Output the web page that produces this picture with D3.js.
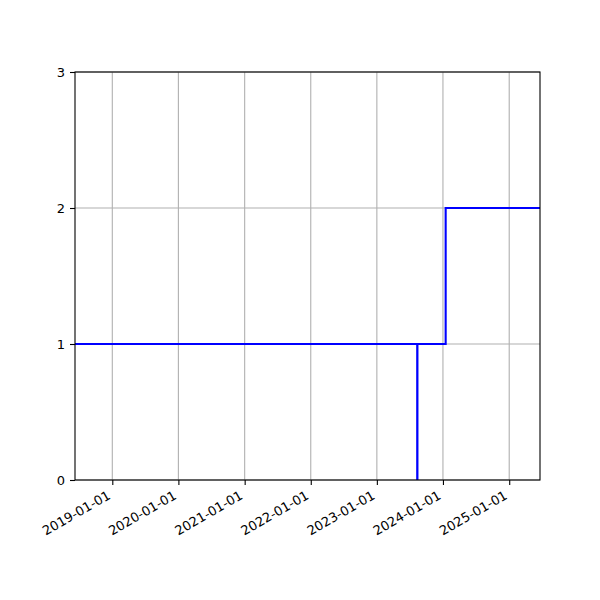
<!DOCTYPE html>
<html>
<head>
<meta charset="utf-8">
<script src="https://cdn.jsdelivr.net/npm/d3@7"></script>
<style>
  body { margin: 0; background: #fff; }
  text { font-family: "DejaVu Sans", sans-serif; font-size: 13px; fill: #000; }
</style>
</head>
<body>
<div id="chart"></div>
<script>
// step data: dates and level values
const dates = ["2018-06-09", "2023-08-12", "2023-08-13", "2024-01-16", "2025-06-20"];
const levels = [1, 0, 1, 2, 2];
const tickDates = ["2019-01-01", "2020-01-01", "2021-01-01", "2022-01-01", "2023-01-01", "2024-01-01", "2025-01-01"];
const yTicks = [0, 1, 2, 3];

(() => {
    const width = 600, height = 600;
    const margin = {top: 72, right: 60, bottom: 120, left: 75};
    const innerWidth = width - margin.left - margin.right;
    const innerHeight = height - margin.top - margin.bottom;
    const parse = d3.timeParse("%Y-%m-%d");

    const data = dates.map((d, i) => ({date: parse(d), value: levels[i]}));

    const svg = d3.select("#chart")
        .append("svg")
        .attr("width", width)
        .attr("height", height)
        .append("g")
        .attr("transform", `translate(${margin.left}, ${margin.top})`);

    const x = d3.scaleTime()
        .domain([parse("2018-06-09"), parse("2025-06-20")])
        .range([0, innerWidth]);
    const y = d3.scaleLinear()
        .domain([0, 3])
        .range([innerHeight, 0]);

    // Grid lines
    svg.append("g").selectAll("line").data(tickDates.map(parse))
        .enter().append("line")
        .attr("x1", d => x(d)).attr("x2", d => x(d))
        .attr("y1", 0).attr("y2", innerHeight)
        .attr("stroke", "#b0b0b0").attr("stroke-width", 1.1);
    svg.append("g").selectAll("line").data(yTicks)
        .enter().append("line")
        .attr("x1", 0).attr("x2", innerWidth)
        .attr("y1", d => y(d)).attr("y2", d => y(d))
        .attr("stroke", "#b0b0b0").attr("stroke-width", 1.1);

    // Step line
    svg.append("clipPath").attr("id", "clip")
        .append("rect").attr("width", innerWidth).attr("height", innerHeight);
    const line = d3.line()
        .x(d => x(d.date))
        .y(d => y(d.value))
        .curve(d3.curveStepAfter);
    svg.append("path")
        .datum(data)
        .attr("clip-path", "url(#clip)")
        .attr("fill", "none")
        .attr("stroke", "#0000ff")
        .attr("stroke-width", 2.1)
        .attr("d", line);

    // Axes
    const xAxis = svg.append("g")
        .attr("transform", `translate(0, ${innerHeight})`)
        .call(d3.axisBottom(x).tickValues(tickDates.map(parse))
            .tickFormat(d3.timeFormat("%Y-%m-%d")).tickSize(5).tickPadding(4));
    // Rotated labels, right end tucked under the tick like matplotlib
    xAxis.selectAll("text")
        .attr("x", 0)
        .attr("y", 0)
        .attr("dy", 0)
        .style("text-anchor", "end")
        .attr("transform", "translate(-1.5, 18) rotate(-30)");

    svg.append("g")
        .call(d3.axisLeft(y).tickValues(yTicks).tickFormat(d3.format("d")).tickSize(5).tickPadding(5));

    svg.selectAll(".domain").remove();
    svg.selectAll(".tick line").attr("stroke", "#000").attr("stroke-width", 1.1);
    svg.selectAll(".tick text").style("font-size", "13px").style("font-family", "DejaVu Sans");

    // Frame
    svg.append("rect")
        .attr("width", innerWidth).attr("height", innerHeight)
        .attr("fill", "none").attr("stroke", "#000").attr("stroke-width", 1.1);
})();
</script>
</body>
</html>
